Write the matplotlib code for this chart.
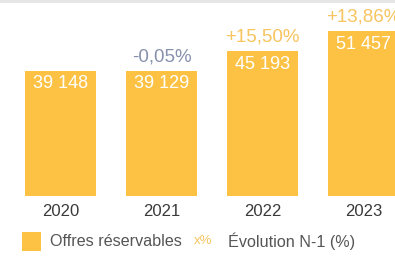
import matplotlib
matplotlib.use("Agg")
import matplotlib.pyplot as plt
from matplotlib.patches import Rectangle

years = ["2020", "2021", "2022", "2023"]
offres = [39148, 39129, 45193, 51457]
value_labels = ["39 148", "39 129", "45 193", "51 457"]
evolution = [None, "-0,05%", "+15,50%", "+13,86%"]
evolution_sign = [0, -1, 1, 1]

BAR = "#FDC244"
POS = "#F7C45F"
NEG = "#8791AD"
W, H = 395, 256

plt.rcParams["font.family"] = ["Liberation Sans", "DejaVu Sans"]
fig = plt.figure(figsize=(W / 100, H / 100), dpi=100)
fig.patch.set_facecolor("white")

bottom_px = 196
ax = fig.add_axes([0, (H - bottom_px) / H, 1, bottom_px / H])
x = list(range(len(years)))
ax.bar(x, offres, width=71 / 101, color=BAR, linewidth=0)
ax.set_xlim(-60.5 / 101, (W - 60.5) / 101)
ax.set_ylim(0, bottom_px * 312)
for s in ax.spines.values():
    s.set_visible(False)
ax.set_yticks([])
ax.set_xticks(x, years)
ax.tick_params(axis="x", length=0, pad=6, labelsize=12, labelcolor="#3a3a3a")
ax.patch.set_alpha(0)

for xi, v, lab in zip(x, offres, value_labels):
    ax.annotate(lab, (xi, v), xytext=(0, -9.4), textcoords="offset points",
                ha="center", va="center", color="white", fontsize=13)

for xi, v, ev, sg in zip(x, offres, evolution, evolution_sign):
    if ev is None:
        continue
    ax.annotate(ev, (xi, v), xytext=(0, 10), textcoords="offset points",
                ha="center", va="center", color=NEG if sg < 0 else POS,
                fontsize=13.5, annotation_clip=False)

# top thin gray band
fig.patches.append(Rectangle((0, 1 - 2.5 / H), 1, 2.5 / H, transform=fig.transFigure,
                             facecolor="#e6e6e6", edgecolor="none"))

# legend
fig.patches.append(Rectangle((22 / W, (H - 251) / H), 19 / W, 19 / H,
                             transform=fig.transFigure, facecolor=BAR, edgecolor="none"))
ly = (H - 241) / H
fig.text(50 / W, ly, "Offres réservables", ha="left", va="center", fontsize=11.6, color="#555555")
fig.text(194 / W, ly, "x%", ha="left", va="center", fontsize=9.5, color=POS)
fig.text(228 / W, ly, "Évolution N-1 (%)", ha="left", va="center", fontsize=11.6, color="#555555")

fig.savefig("out.png", dpi=100, facecolor="white")
